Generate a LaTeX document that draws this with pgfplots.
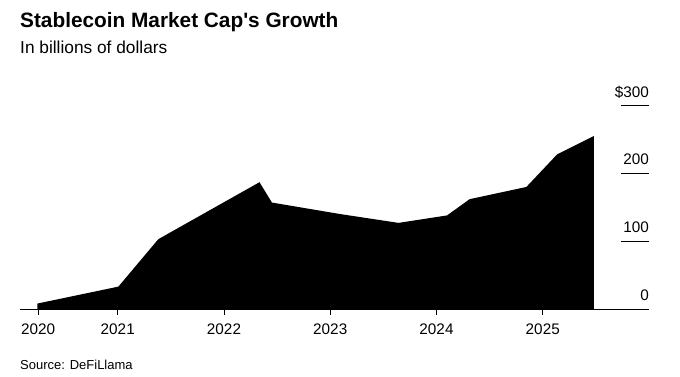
\documentclass[border=0pt]{standalone}
\usepackage{pgfplots}
\pgfplotsset{compat=1.18}
\usepackage{fontspec}
\setmainfont{Liberation Sans}[Ligatures=TeXOff]
\begin{document}
\begin{tikzpicture}[x=1pt,y=1pt]
\useasboundingbox (-20,-68) rectangle (660,309);
\node[anchor=base west, inner sep=0pt, font=\fontsize{20.8}{24}\selectfont\bfseries] at (0,281.5) {Stablecoin Market Cap's Growth};
\node[anchor=base west, inner sep=0pt, font=\fontsize{17.3}{20}\selectfont] at (0,255.7) {In billions of dollars};
\node[anchor=base west, inner sep=0pt, font=\fontsize{13}{16}\selectfont] at (0,-61) {Source: DeFiLlama};
\begin{axis}[
  at={(0,0)}, anchor=south west,
  scale only axis, width=629pt, height=203.4pt,
  xmin=2020.08, xmax=2026.0, ymin=0, ymax=300,
  axis x line*=bottom, axis y line=none,
  x axis line style={line width=0.8pt, -},
  xtick={2020.25,2021,2022,2023,2024,2025},
  xticklabels={2020,2021,2022,2023,2024,2025},
  tick align=outside, major tick length=6pt,
  xtick style={line width=0.8pt, black},
  xticklabel style={font=\fontsize{15.3}{18}\selectfont, anchor=north, inner sep=0pt, yshift=-9pt},
  clip=false,
]
\addplot[fill=black, draw=none] coordinates {
(2020.243,8) (2021.006,33) (2021.382,103) (2022.334,187) (2022.451,157)
(2023.094,140) (2023.643,127) (2024.099,138) (2024.312,162) (2024.846,180)
(2025.135,228) (2025.480,255)
} \closedcycle;
\end{axis}
\begin{axis}[
  at={(0,0)}, anchor=south west,
  scale only axis, width=629pt, height=203.4pt,
  xmin=2020.08, xmax=2026.0, ymin=0, ymax=300,
  axis x line=none, axis y line*=right,
  y axis line style={draw=none},
  ytick={0,100,200,300},
  yticklabels={0,100,200,\$300},
  tick align=inside, major tick length=28pt,
  ytick style={line width=0.8pt, black},
  yticklabel style={font=\fontsize{15.3}{18}\selectfont, anchor=base east, inner sep=0pt, xshift=0pt, yshift=8.5pt},
]
\end{axis}
\end{tikzpicture}
\end{document}
